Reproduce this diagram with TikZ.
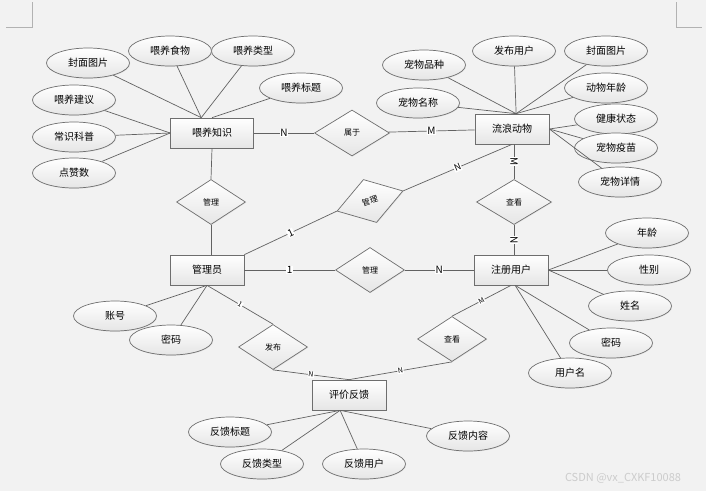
\documentclass[tikz,border=0pt]{standalone}
\usepackage{fontspec}
\setmainfont{Noto Sans CJK SC}
\usetikzlibrary{shapes.geometric,shadows}
\definecolor{bggray}{HTML}{F2F2F2}
\definecolor{edgegray}{HTML}{626262}
\definecolor{boxgray}{HTML}{6E6E6E}

\begin{document}
\begin{tikzpicture}[x=1pt,y=-1pt,
		shp/.style={draw=boxgray,line width=0.7pt,top color=white,bottom color=black!10,inner sep=0pt,
			drop shadow={shadow xshift=0.7pt,shadow yshift=-0.7pt,opacity=0.15}},
		entity/.style={shp,rectangle,minimum width=74pt,minimum height=30pt,font=\fontsize{10}{12}\selectfont},
		attr/.style={shp,ellipse,minimum width=83pt,minimum height=30pt,font=\fontsize{10}{12}\selectfont},
		rel/.style={shp,diamond,minimum width=69pt,minimum height=45pt,font=\fontsize{8}{10}\selectfont},
		ln/.style={edgegray,line width=0.7pt},
		lbl/.style={fill=white,text=black,inner sep=0.6pt,font=\fontsize{10}{10}\selectfont},
		slbl/.style={lbl,font=\fontsize{7}{7}\selectfont}]
				\useasboundingbox (0,0) rectangle (706,491);
				\fill[bggray] (0,0) rectangle (706,491);
				\draw[black!30,line width=0.8pt] (6,27) -- (32,27) -- (32,2);
				\draw[black!30,line width=0.8pt] (676,2) -- (676,27) -- (702,27);
				
				\node[entity,minimum width=83pt] (wyzs) at (212,133) {喂养知识};
				\node[entity] (lldw) at (512,129) {流浪动物};
				\node[entity] (gly) at (207,270) {管理员};
				\node[entity] (zcyh) at (511,270) {注册用户};
				\node[entity] (pjfk) at (349,395) {评价反馈};
				
				\node[rel,minimum width=75pt,minimum height=46pt] (sy) at (352,133) {属于};
				\node[rel] (gl1) at (211,202) {管理};
				\node[rel,rotate=17] (gl2) at (370,201) {管理};
				\node[rel,minimum width=75pt] (ck1) at (514,202) {查看};
				\node[rel] (gl3) at (370,270) {管理};
				\node[rel] (fb) at (273,347) {发布};
				\node[rel] (ck2) at (452,339) {查看};
				
				\node[attr] (wy-fm) at (88,63) {封面图片};
				\node[attr] (wy-sw) at (170,51) {喂养食物};
				\node[attr] (wy-lx) at (253,51) {喂养类型};
				\node[attr] (wy-bt) at (301,88) {喂养标题};
				\node[attr] (wy-jy) at (74,100) {喂养建议};
				\node[attr] (wy-kp) at (74,137) {常识科普};
				\node[attr] (wy-dz) at (74,173) {点赞数};
				
				\node[attr] (ll-pz) at (424,65) {宠物品种};
				\node[attr] (ll-fb) at (514,51) {发布用户};
				\node[attr] (ll-fm) at (606,51) {封面图片};
				\node[attr] (ll-nl) at (606,88) {动物年龄};
				\node[attr] (ll-mc) at (418,103) {宠物名称};
				\node[attr] (ll-jk) at (616,119) {健康状态};
				\node[attr] (ll-ym) at (616,148) {宠物疫苗};
				\node[attr] (ll-xq) at (620,182) {宠物详情};
				
				\node[attr] (zc-nl) at (647,233) {年龄};
				\node[attr] (zc-xb) at (649,270) {性别};
				\node[attr] (zc-xm) at (630,306) {姓名};
				\node[attr] (zc-mm) at (611,343) {密码};
				\node[attr] (zc-yhm) at (570,373) {用户名};
				
				\node[attr] (gl-zh) at (115,316) {账号};
				\node[attr] (gl-mm) at (171,340) {密码};
				
				\node[attr] (pj-bt) at (230,432) {反馈标题};
				\node[attr] (pj-lx) at (262,464) {反馈类型};
				\node[attr] (pj-yh) at (364,464) {反馈用户};
				\node[attr] (pj-nr) at (468,436) {反馈内容};
				
				\node[gray!40,font=\fontsize{11}{11}\selectfont] (csdn) at (623,478) {CSDN @vx\_CXKF10088};
				
				\draw[ln] (wyzs) -- node[lbl]{N} (sy);
				\draw[ln] (sy) -- node[lbl]{M} (lldw);
				\draw[ln] (wyzs.south) -- (gl1.north);
				\draw[ln] (gl1.south) -- (gl1.south |- gly.north);
				\draw[ln] (gly.north east) -- node[lbl,sloped]{1} (gl2.west);
				\draw[ln] (gl2.east) -- node[lbl,sloped,font=\fontsize{9}{9}\selectfont]{N} (lldw.south);
				\draw[ln] (ck1.north |- lldw.south) -- node[lbl,sloped]{M} (ck1.north);
				\draw[ln] (ck1.south) -- node[lbl,sloped]{N} (ck1.south |- zcyh.north);
				\draw[ln] (gly) -- node[lbl]{1} (gl3);
				\draw[ln] (gl3) -- node[lbl]{N} (zcyh);
				\draw[ln] (gly.south) -- node[slbl,sloped]{1} (fb.north);
				\draw[ln] (fb.south) -- node[slbl,sloped]{N} (pjfk.north);
				\draw[ln] (pjfk.north) -- node[slbl,sloped]{N} (ck2.south);
				\draw[ln] (ck2.north) -- node[slbl,sloped]{M} (zcyh.south);
				
				\foreach \a in {wy-fm,wy-sw,wy-lx}
					\draw[ln] (\a) -- (wyzs.125);
				\draw[ln] (wy-bt) -- (wyzs.north);
				\foreach \a in {wy-jy,wy-kp,wy-dz}
					\draw[ln] (\a) -- (wyzs.west);
				\foreach \a in {ll-pz,ll-fb,ll-fm,ll-nl,ll-mc}
					\draw[ln] (\a) -- (lldw.75);
				\foreach \a in {ll-jk,ll-ym,ll-xq}
					\draw[ln] (\a) -- (lldw.east);
				\foreach \a in {zc-nl,zc-xb,zc-xm}
					\draw[ln] (\a) -- (zcyh.east);
				\foreach \a in {zc-mm,zc-yhm}
					\draw[ln] (\a) -- (zcyh.285);
				\foreach \a in {gl-zh,gl-mm}
					\draw[ln] (\a) -- (gly.south);
				\foreach \a in {pj-bt,pj-lx,pj-yh,pj-nr}
					\draw[ln] (\a) -- (pjfk.240);
			\end{tikzpicture}
\end{document}
